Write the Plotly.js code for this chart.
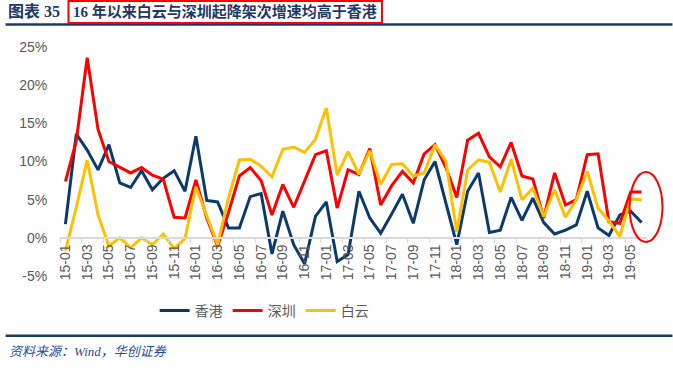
<!DOCTYPE html>
<html>
<head>
<meta charset="utf-8">
<script src="https://cdn.plot.ly/plotly-3.0.1.min.js"></script>
<style>
html,body{margin:0;padding:0;background:#fff;}
#chart{width:673px;height:370px;}
</style>
</head>
<body>
<div id="chart"></div>
<script>
// ---- data ----
const months = ['15-01','15-02','15-03','15-04','15-05','15-06','15-07','15-08','15-09','15-10','15-11','15-12',
  '16-01','16-02','16-03','16-04','16-05','16-06','16-07','16-08','16-09','16-10','16-11','16-12',
  '17-01','17-02','17-03','17-04','17-05','17-06','17-07','17-08','17-09','17-10','17-11','17-12',
  '18-01','18-02','18-03','18-04','18-05','18-06','18-07','18-08','18-09','18-10','18-11','18-12',
  '19-01','19-02','19-03','19-04','19-05','19-06'];
const hongKong = [1.8,13.6,11.5,8.9,12.2,7.2,6.6,8.8,6.3,7.8,8.8,6.1,
  13.3,4.9,4.7,1.3,1.3,5.4,5.8,-2.1,3.5,-0.9,-3.4,2.8,
  4.7,-3.1,-2.2,6.1,2.6,0.6,3.1,5.7,1.9,7.6,10.0,4.6,
  -0.9,6.1,8.5,0.7,1.0,5.3,2.3,5.2,2.0,0.5,1.0,1.7,
  6.1,1.3,0.3,3.0,3.5,2.0];
const shenzhen = [7.4,12.7,23.6,14.2,10.0,9.2,8.5,9.2,8.2,7.7,2.7,2.6,
  7.6,2.6,-1.1,3.3,8.1,9.2,7.5,3.0,7.0,4.0,7.4,10.9,
  11.4,3.9,8.9,8.3,11.7,4.3,6.8,8.7,7.2,11.0,12.2,9.2,
  5.3,12.8,13.7,10.6,9.3,12.5,8.1,7.7,2.6,8.5,4.3,5.0,
  10.9,11.0,2.1,1.9,6.0,6.0];
const baiyun = [-1.7,4.0,10.2,3.0,-1.1,0.0,-1.3,0.0,-0.9,0.5,-1.4,-0.1,
  6.7,3.0,-0.9,5.2,10.2,10.3,9.4,8.0,11.6,11.9,11.2,12.9,
  17.0,8.2,11.3,8.3,11.4,7.0,9.6,9.7,8.1,8.5,12.2,10.0,
  0.8,8.9,10.2,9.9,6.0,10.3,5.0,6.5,2.8,6.3,2.7,5.0,
  8.7,3.9,2.2,0.2,5.1,5.0];
const seriesNames = ['香港','深圳','白云'];
const yTickVals = [-5,0,5,10,15,20,25];
const yTickText = ['-5%','0%','5%','10%','15%','20%','25%'];
const titleLabel = '图表 35';
const titleText = '16 年以来白云与深圳起降架次增速均高于香港';
const sourceText = '资料来源：<i>Wind</i>，华创证券';

// ---- geometry helpers (pixel -> paper) ----
const W = 673, H = 370;
const M = {l: 59.5, r: 25.5, t: 47, b: 94};
const PW = W - M.l - M.r, PH = H - M.t - M.b;
const px = x => (x - M.l) / PW;
const py = y => (H - M.b - y) / PH;
const yMin = -5, yMax = 25;

const colors = ['#0B3A6B', '#FF0000', '#FFC000'];
const seriesData = [hongKong, shenzhen, baiyun];
const traces = seriesData.map((d, i) => ({
  type: 'scatter', mode: 'lines', x: months, y: d, name: seriesNames[i],
  line: {color: colors[i], width: 3}, hoverinfo: 'skip'
}));

const navy = '#1B3A66';
const layout = {
  width: W, height: H,
  margin: M,
  paper_bgcolor: '#fff', plot_bgcolor: '#fff',
  showlegend: true,
  font: {family: 'Liberation Sans, Arial, "Noto Sans CJK SC"', color: '#595959', size: 14},
  xaxis: {
    type: 'category', range: [-0.5, months.length - 0.5],
    anchor: 'free', position: (0 - yMin) / (yMax - yMin),
    showline: true, linecolor: '#D9D9D9', linewidth: 2,
    showgrid: false, zeroline: false,
    tickmode: 'linear', tick0: 0, dtick: 2, tickson: 'boundaries',
    ticks: 'outside', ticklen: 4, tickcolor: '#D9D9D9', tickwidth: 1,
    tickangle: -90, tickfont: {size: 14, color: '#595959'}
  },
  yaxis: {
    range: [yMin, yMax], showgrid: false, zeroline: false, showline: false,
    tickmode: 'array', tickvals: yTickVals, ticktext: yTickText,
    ticks: 'outside', ticklen: 9, tickcolor: 'rgba(0,0,0,0)',
    tickfont: {size: 14, color: '#595959'}
  },
  legend: {
    orientation: 'h', x: px(264), xanchor: 'center', y: py(311), yanchor: 'middle',
    font: {size: 14, color: '#595959', family: '"Noto Sans CJK SC", sans-serif'},
    itemwidth: 30, tracegroupgap: 0
  },
  shapes: [
    {type: 'line', xref: 'paper', yref: 'paper', x0: px(5), x1: px(673), y0: py(24.5), y1: py(24.5),
     line: {color: navy, width: 2.5}},
    {type: 'rect', xref: 'paper', yref: 'paper', x0: px(68), x1: px(382), y0: py(23), y1: py(1),
     line: {color: '#FF0000', width: 2}},
    {type: 'line', xref: 'paper', yref: 'paper', x0: px(5), x1: px(673), y0: py(335.7), y1: py(335.7),
     line: {color: navy, width: 2.5}},
    {type: 'circle', xref: 'paper', yref: 'paper', x0: px(630), x1: px(663), y0: py(242), y1: py(172),
     line: {color: '#FF0000', width: 2}}
  ],
  annotations: [
    {xref: 'paper', yref: 'paper', x: px(5), y: py(12), xanchor: 'left', yanchor: 'middle', showarrow: false,
     text: '<b>' + titleLabel + '</b>', font: {size: 16, color: navy, family: '"Liberation Serif", "Noto Sans CJK SC"'}},
    {xref: 'paper', yref: 'paper', x: px(71), y: py(12), xanchor: 'left', yanchor: 'middle', showarrow: false,
     text: '<b>' + titleText + '</b>', font: {size: 15, color: navy, family: '"Liberation Serif", "Noto Sans CJK SC"'}},
    {xref: 'paper', yref: 'paper', x: px(6), y: py(351), xanchor: 'left', yanchor: 'middle', showarrow: false,
     text: '<i>' + sourceText + '</i>', font: {size: 13, color: '#1F4E99', family: '"Liberation Serif", "Noto Sans CJK SC"'}}
  ]
};

Plotly.newPlot('chart', traces, layout, {staticPlot: true, displayModeBar: false});
</script>
</body>
</html>
